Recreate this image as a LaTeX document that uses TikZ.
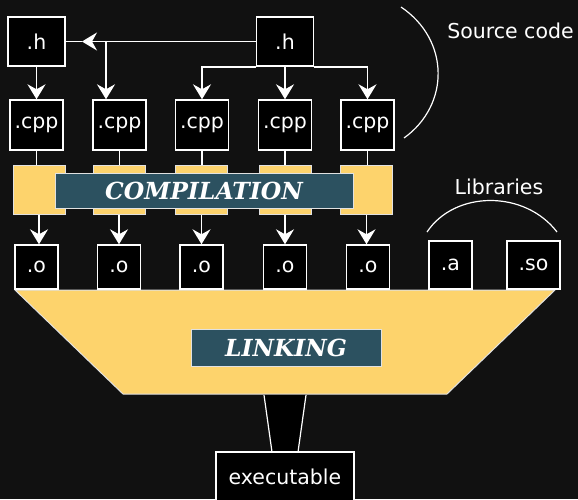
\documentclass[tikz,border=0pt]{standalone}
\usepackage{fontspec}
\setsansfont{DejaVu Sans}
\newfontfamily\stagefont{DejaVu Serif}
\usepackage{tikz}
\usetikzlibrary{arrows.meta, positioning, calc}
\definecolor{bgdark}{RGB}{17,17,17}
\definecolor{stageyellow}{RGB}{253,211,108}
\definecolor{stageteal}{RGB}{44,81,96}
\definecolor{edgegray}{RGB}{225,225,225}
\tikzset{
	file/.style = {draw=white, fill=black, line width=1.4pt, inner sep=0pt, text=white,
		font=\sffamily\fontsize{20.5}{22}\selectfont},
	compbox/.style = {draw=edgegray, fill=stageyellow, line width=1pt, inner sep=0pt,
		minimum width=52pt, minimum height=49pt},
	stagetitle/.style = {draw=edgegray, fill=stageteal, line width=1pt, inner sep=0pt, text=white,
		font=\stagefont\bfseries\itshape\fontsize{23.5}{25}\selectfont},
	flow/.style = {draw=white, line width=1.7pt},
	flowarrow/.style = {flow, -{Stealth[length=15pt, width=18pt, inset=5pt]}},
	caption/.style = {text=white, font=\sffamily\fontsize{20.5}{22}\selectfont}
}

\begin{document}
\begin{tikzpicture}[x=1pt, y=-1pt]
	\useasboundingbox (0,0) rectangle (578,499);
	\fill [bgdark] (0,0) rectangle (578,499);

	% headers and sources
	\node [file, minimum width=57pt, minimum height=49pt] (lh) at (36.5,41.5) {.h};
	\node [file, minimum width=57pt, minimum height=49pt] (rh) at (285,41.5) {.h};
	\node [file, minimum width=53pt, minimum height=50pt] (cpp1) at (36.5,125) {.cpp};
	\node [file, minimum width=53pt, minimum height=50pt] (cpp2) at (119.5,125) {.cpp};
	\node [file, minimum width=53pt, minimum height=50pt] (cpp3) at (202,125) {.cpp};
	\node [file, minimum width=53pt, minimum height=50pt] (cpp4) at (285,125) {.cpp};
	\node [file, minimum width=53pt, minimum height=50pt] (cpp5) at (367.5,125) {.cpp};

	\coordinate (hmid) at (82,41.5);
	\coordinate (hbranch) at (106,41.5);
	\draw [flow] (hmid) -- (lh.east);
	\draw [flowarrow] (rh.west) -- (hmid);
	\draw [flowarrow] (hbranch) -- (hbranch |- cpp2.north);
	\draw [flowarrow] (lh.south) -- (cpp1.north);
	\draw [flowarrow] (rh.south west) -| (cpp3.north);
	\draw [flowarrow] (rh.south) -- (cpp4.north);
	\draw [flowarrow] (rh.south east) -| (cpp5.north);

	\draw [white, line width=1.2pt] (401,7) .. controls (450,40) and (450,105) .. (404,138);
	\node [caption] (srclabel) at (510.5,31) {Source code};

	% compilation stage
	\node [compbox] (comp1) at (39,189.5) {};
	\node [compbox] (comp2) at (119,189.5) {};
	\node [compbox] (comp3) at (201.5,189.5) {};
	\node [compbox] (comp4) at (285,189.5) {};
	\node [compbox] (comp5) at (366.5,189.5) {};
	\draw [flow] (cpp1.south) -- (cpp1.south |- comp1.north);
	\draw [flow] (cpp2.south) -- (cpp2.south |- comp2.north);
	\draw [flow] (cpp3.south) -- (cpp3.south |- comp3.north);
	\draw [flow] (cpp4.south) -- (cpp4.south |- comp4.north);
	\draw [flow] (cpp5.south) -- (cpp5.south |- comp5.north);
	\node [stagetitle, minimum width=298pt, minimum height=35pt] (comptitle) at (204,190.5) {COMPILATION};

	% linking stage
	\filldraw [fill=stageyellow, draw=edgegray, line width=1pt] (15,290) -- (555,290) -- (447,394) -- (123,394) -- cycle;
	\filldraw [fill=black] (264,395) -- (306,395) -- (298,452) -- (272,452) -- cycle;
	\draw [flow, line width=1.2pt] (264,395) -- (272,452) (306,395) -- (298,452);

	\node [file, minimum width=43pt, minimum height=44pt] (o1) at (36.5,267) {.o};
	\node [file, minimum width=43pt, minimum height=44pt] (o2) at (119,267) {.o};
	\node [file, minimum width=43pt, minimum height=44pt] (o3) at (201.5,267) {.o};
	\node [file, minimum width=43pt, minimum height=44pt] (o4) at (285,267) {.o};
	\node [file, minimum width=43pt, minimum height=44pt] (o5) at (368,267) {.o};
	\node [file, minimum width=43pt, minimum height=48pt] (liba) at (450.5,265) {.a};
	\node [file, minimum width=53pt, minimum height=48pt] (libso) at (533.5,265) {.so};

	\draw [flowarrow] (comp1.south) -- (comp1.south |- o1.north);
	\draw [flowarrow] (comp2.south) -- (comp2.south |- o2.north);
	\draw [flowarrow] (comp3.south) -- (comp3.south |- o3.north);
	\draw [flowarrow] (comp4.south) -- (comp4.south |- o4.north);
	\draw [flowarrow] (comp5.south) -- (comp5.south |- o5.north);

	\draw [white, line width=1.2pt] (427,232) .. controls (455,190) and (525,190) .. (557,232);
	\node [caption] (liblabel) at (499,187) {Libraries};

	\node [stagetitle, minimum width=190pt, minimum height=37pt] (linktitle) at (286,347.5) {LINKING};
	\node [file, minimum width=138pt, minimum height=49pt] (exe) at (285,476.5) {executable};
\end{tikzpicture}
\end{document}
